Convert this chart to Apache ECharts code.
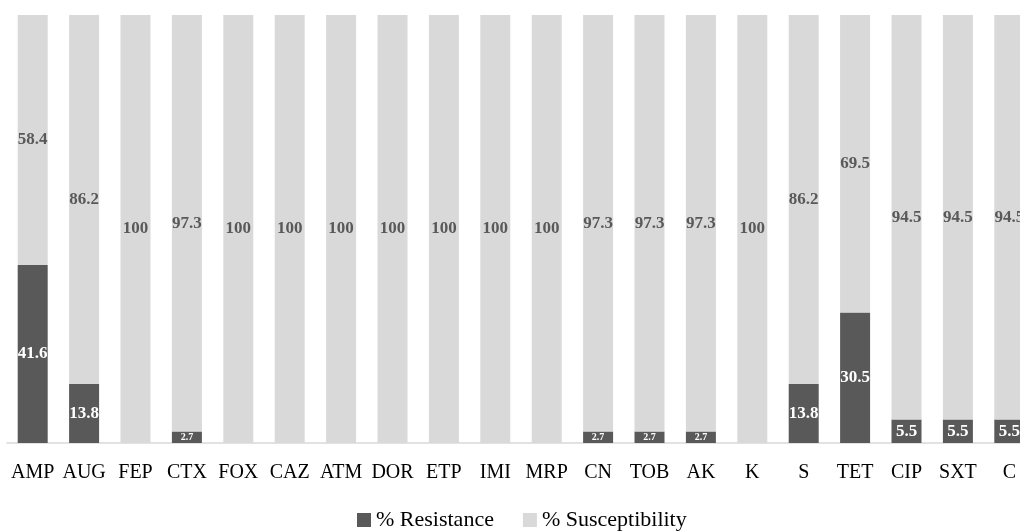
<!DOCTYPE html>
<html>
<head>
<meta charset="utf-8">
<script src="https://cdn.jsdelivr.net/npm/echarts@6/dist/echarts.min.js"></script>
<style>html,body{margin:0;padding:0;background:#fff;overflow:hidden;width:1020px;height:532px;}#chart{width:1035px;height:532px;}</style>
</head>
<body>
<div id="chart"></div>
<script>
const categories = ['AMP','AUG','FEP','CTX','FOX','CAZ','ATM','DOR','ETP','IMI','MRP','CN','TOB','AK','K','S','TET','CIP','SXT','C'];
const resistance = [41.6,13.8,0,2.7,0,0,0,0,0,0,0,2.7,2.7,2.7,0,13.8,30.5,5.5,5.5,5.5];
const susceptibility = [58.4,86.2,100,97.3,100,100,100,100,100,100,100,97.3,97.3,97.3,100,86.2,69.5,94.5,94.5,94.5];
const seriesNames = ['% Resistance','% Susceptibility'];

const FONT = 'Liberation Serif';
const chart = echarts.init(document.getElementById('chart'));
function labelFor(color){
  return {
    show: true, position: 'inside', color: color, fontFamily: FONT, fontWeight: 'bold', fontSize: 17,
    formatter: p => p.value === 0 ? '' : String(p.value)
  };
}
chart.setOption({
  animation: false,
  grid: {left: 7, right: 0, top: 15, bottom: 89, containLabel: false},
  legend: {
    left: 352, top: 504, itemWidth: 14, itemHeight: 14, itemGap: 29,
    icon: 'rect',
    textStyle: {fontFamily: FONT, fontSize: 22, color: '#000'},
    data: seriesNames
  },
  xAxis: {
    type: 'category', data: categories,
    axisLine: {show: true, lineStyle: {color: '#d9d9d9', width: 1.5}},
    axisTick: {show: false},
    axisLabel: {fontFamily: FONT, fontSize: 20, color: '#000', margin: 20, interval: 0}
  },
  yAxis: {type: 'value', min: 0, max: 100, show: false, splitLine: {show: false}},
  series: [
    {
      name: seriesNames[0], type: 'bar', stack: 'a', barWidth: 30,
      itemStyle: {color: '#595959'},
      label: labelFor('#ffffff'),
      data: resistance.map(v => v > 0 && v < 3 ? {value: v, label: {fontSize: 10}} : v)
    },
    {
      name: seriesNames[1], type: 'bar', stack: 'a', barWidth: 30,
      itemStyle: {color: '#d9d9d9'},
      label: labelFor('#595959'),
      data: susceptibility
    }
  ]
});
</script>
</body>
</html>
